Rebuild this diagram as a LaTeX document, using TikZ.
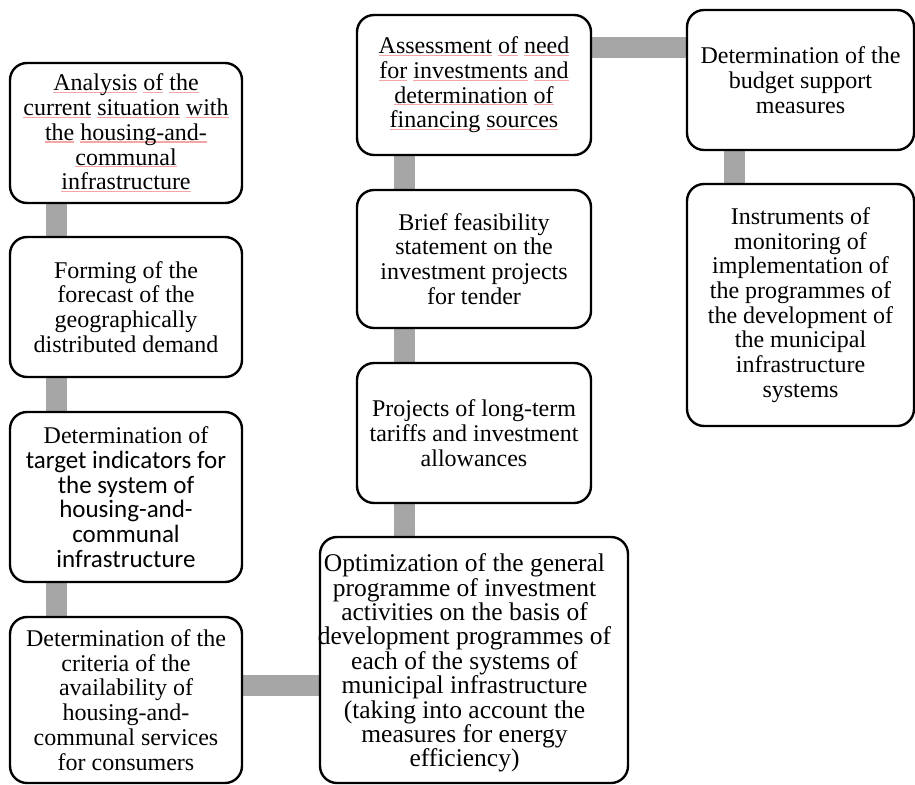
\documentclass[tikz,border=0pt]{standalone}
\usepackage{fontspec}
\setmainfont{Liberation Serif}
\newfontfamily\calibrifont{Carlito}
\usetikzlibrary{backgrounds}

\definecolor{linkgray}{HTML}{A6A6A6}
\definecolor{spellred}{HTML}{F4A6A6}

% thin pink underline under a single word
\newsavebox\spwbox
\newcommand\spw[1]{\sbox\spwbox{#1}\rlap{\textcolor{spellred}{\rule[-0.09em]{\wd\spwbox}{0.045em}}}\usebox\spwbox}
% sans lines inside the target-indicator box
\newcommand\sansline{\calibrifont\fontsize{25}{26.5}\selectfont}

\tikzset{
  stage/.style={draw, line width=2.4pt, rounded corners=17pt, fill=white,
    align=center, inner sep=0pt, font=\fontsize{24}{24.7}\selectfont},
  stagetext/.style={align=center, inner sep=0pt, font=\fontsize{25.5}{24.4}\selectfont},
  link/.style={draw=linkgray, line width=21pt},
}

\begin{document}
\begin{tikzpicture}[x=1pt, y=-1pt]
\useasboundingbox (0,0) rectangle (915,784);

% left column
\node[stage, minimum width=232pt, minimum height=140pt] (A) at (126,133)
  {\spw{Analysis} \spw{of} \spw{the}\\\spw{current} \spw{situation} \spw{with}\\\spw{the} \spw{housing-and-}\\\spw{communal}\\\spw{infrastructure}};
\node[stage, minimum width=232pt, minimum height=140pt] (B) at (126,307)
  {Forming of the\\forecast of the\\geographically\\distributed demand};
\node[stage, minimum width=232pt, minimum height=170pt] (C) at (126,497)
  {Determination of\\\sansline target indicators for\\\sansline the system of\\\sansline housing-and-\\\sansline communal\\\sansline infrastructure};
\node[stage, minimum width=232pt, minimum height=166pt] (D) at (126,700)
  {Determination of the\\criteria of the\\availability of\\housing-and-\\communal services\\for consumers};

% middle column
\node[stage, minimum width=308pt, minimum height=246pt] (E) at (474,660) {};
\node[stagetext] (Etext) at ([xshift=-9.5pt, yshift=-3pt]E.center)
  {Optimization of the general\\programme of investment\\activities on the basis of\\development programmes of\\each of the systems of\\municipal infrastructure\\(taking into account the\\measures for energy\\efficiency)};
\node[stage, minimum width=234pt, minimum height=140pt] (F) at (474,433)
  {Projects of long-term\\tariffs and investment\\allowances};
\node[stage, minimum width=234pt, minimum height=138pt] (G) at (474,259)
  {Brief feasibility\\statement on the\\investment projects\\for tender};
\node[stage, minimum width=234pt, minimum height=140pt] (H) at (474,85)
  {\spw{Assessment} \spw{of} \spw{need}\\\spw{for} \spw{investments} \spw{and}\\\spw{determination} \spw{of}\\\spw{financing} \spw{sources}};

% right column
\node[stage, minimum width=227pt, minimum height=140pt] (I) at (800.5,80)
  {Determination of the\\budget support\\measures};
\node[stage, minimum width=227pt, minimum height=242pt] (J) at (800.5,305)
  {Instruments of\\monitoring of\\implementation of\\the programmes of\\the development of\\the municipal\\infrastructure\\systems};

% grey links behind the boxes
\begin{scope}[on background layer]
  \draw[link] ([xshift=47.5pt]A.south west) -- ([xshift=47.5pt]B.north west);
  \draw[link] ([xshift=47.5pt]B.south west) -- ([xshift=47.5pt]C.north west);
  \draw[link] ([xshift=47.5pt]C.south west) -- ([xshift=47.5pt]D.north west);
  \draw[link] ([yshift=15pt]D.east) -- ([yshift=15pt]D.east -| E.west);
  \draw[link] ([xshift=48.5pt]H.south west) -- ([xshift=48.5pt]G.north west);
  \draw[link] ([xshift=48.5pt]G.south west) -- ([xshift=48.5pt]F.north west);
  \draw[link] ([xshift=48.5pt]F.south west) -- ([xshift=48.5pt]F.south west |- E.north);
  \draw[link] ([yshift=37.5pt]H.east) -- ([yshift=37.5pt]H.east -| I.west);
  \draw[link] ([xshift=48.5pt]I.south west) -- ([xshift=48.5pt]J.north west);
\end{scope}
\end{tikzpicture}
\end{document}
